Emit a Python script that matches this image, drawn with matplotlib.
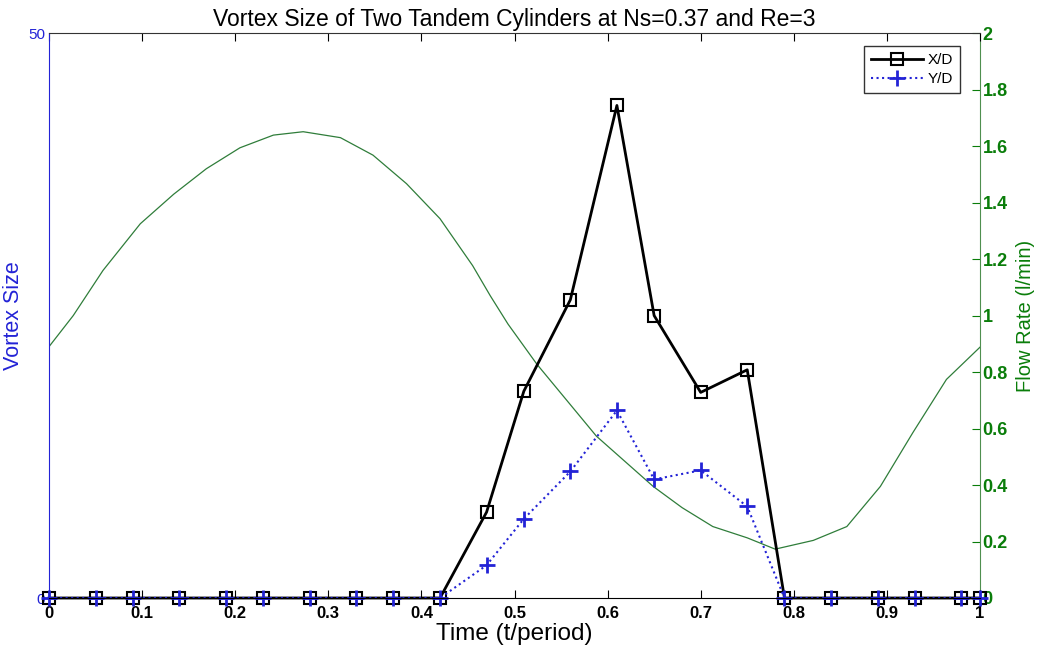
import matplotlib
matplotlib.use("Agg")
import matplotlib.pyplot as plt

plt.rcParams["font.family"] = ["Liberation Sans", "DejaVu Sans"]

# vortex size samples (left axis)
t_vortex = [0, 0.05, 0.09, 0.14, 0.19, 0.23, 0.28, 0.33, 0.37, 0.42,
            0.47, 0.51, 0.56, 0.61, 0.65, 0.70, 0.75, 0.79,
            0.84, 0.89, 0.93, 0.98, 1.0]
xd = [0, 0, 0, 0, 0, 0, 0, 0, 0, 0,
      7.6, 18.3, 26.4, 43.6, 25.0, 18.2, 20.2, 0,
      0, 0, 0, 0, 0]
yd = [0, 0, 0, 0, 0, 0, 0, 0, 0, 0,
      2.9, 7.0, 11.2, 16.6, 10.5, 11.3, 8.1, 0,
      0, 0, 0, 0, 0]

# flow rate trace (right axis)
t_flow = [0, 0.026, 0.058, 0.098, 0.134, 0.169, 0.205, 0.241, 0.273, 0.313,
          0.348, 0.384, 0.42, 0.455, 0.474, 0.493, 0.524, 0.588, 0.649, 0.68,
          0.713, 0.75, 0.78, 0.821, 0.857, 0.893, 0.928, 0.964, 1.0]
flow = [0.89, 1.0, 1.16, 1.325, 1.43, 1.52, 1.594, 1.639, 1.651, 1.63,
        1.568, 1.467, 1.343, 1.177, 1.07, 0.97, 0.828, 0.573, 0.395, 0.32,
        0.253, 0.213, 0.173, 0.204, 0.253, 0.395, 0.586, 0.774, 0.888]

x_ticks = [0, 0.1, 0.2, 0.3, 0.4, 0.5, 0.6, 0.7, 0.8, 0.9, 1.0]
x_labels = ["0", "0.1", "0.2", "0.3", "0.4", "0.5", "0.6", "0.7", "0.8", "0.9", "1"]
r_ticks = [0, 0.2, 0.4, 0.6, 0.8, 1.0, 1.2, 1.4, 1.6, 1.8, 2.0]
r_labels = ["0", "0.2", "0.4", "0.6", "0.8", "1", "1.2", "1.4", "1.6", "1.8", "2"]

BLUE = "#2323d6"
GREEN = "#0a7d0a"

fig = plt.figure(figsize=(10.5, 6.5), dpi=100)
ax1 = fig.add_axes([0.0467, 0.08, 0.8866, 0.869])
ax2 = ax1.twinx()
ax1.set_zorder(ax2.get_zorder() + 1)
ax1.patch.set_visible(False)

# flow rate
ax2.plot(t_flow, flow, color="#2f7d3a", lw=0.9)
ax2.set_ylim(0, 2)
ax2.set_yticks(r_ticks)
ax2.set_yticklabels(r_labels, color=GREEN, fontsize=13, fontweight="bold")
ax2.tick_params(axis="y", direction="in", colors=GREEN, length=6, pad=2)
for s in ["left", "top", "bottom"]:
    ax2.spines[s].set_visible(False)
ax2.spines["right"].set_color("#4f8f4f")
ax2.set_ylabel("Flow Rate (l/min)", color=GREEN, fontsize=14.5, labelpad=6)

# vortex sizes
ax1.plot(t_vortex, xd, color="black", lw=2, marker="s", ms=9, mfc="none",
         mec="black", mew=1.5, label="X/D", clip_on=False)
ax1.plot(t_vortex, yd, color=BLUE, lw=1.5, ls=":", marker="+", ms=11,
         mec=BLUE, mew=2, label="Y/D", clip_on=False)
ax1.set_xlim(0, 1)
ax1.set_ylim(0, 50)
ax1.set_yticks([0, 50])
ax1.set_yticklabels(["0", "50"], color=BLUE, fontsize=11)
ax1.tick_params(axis="y", direction="in", colors=BLUE, length=0, pad=3)
ax1.set_xticks(x_ticks)
ax1.set_xticklabels(x_labels, fontsize=12, fontweight="bold")
ax1.tick_params(axis="x", direction="in", top=True, length=6, pad=6)
ax1.spines["right"].set_visible(False)
ax1.spines["left"].set_color(BLUE)
ax1.spines["top"].set_color("#333333")
ax1.spines["bottom"].set_color("black")
ax1.set_ylabel("Vortex Size", color=BLUE, fontsize=15.5, labelpad=3)
ax1.set_xlabel("Time (t/period)", fontsize=17.5, labelpad=1)
ax1.set_title("Vortex Size of Two Tandem Cylinders at Ns=0.37 and Re=3",
              fontsize=16.5, pad=5)

leg = ax1.legend(loc="upper right", bbox_to_anchor=(0.9785, 0.977), fontsize=11,
                 fancybox=False, edgecolor="#333333", framealpha=1,
                 handlelength=3.4, borderpad=0.45, labelspacing=0.35,
                 handletextpad=0.3, borderaxespad=0)
leg.get_frame().set_linewidth(1.0)

fig.savefig("out.png", dpi=100, facecolor="white")
